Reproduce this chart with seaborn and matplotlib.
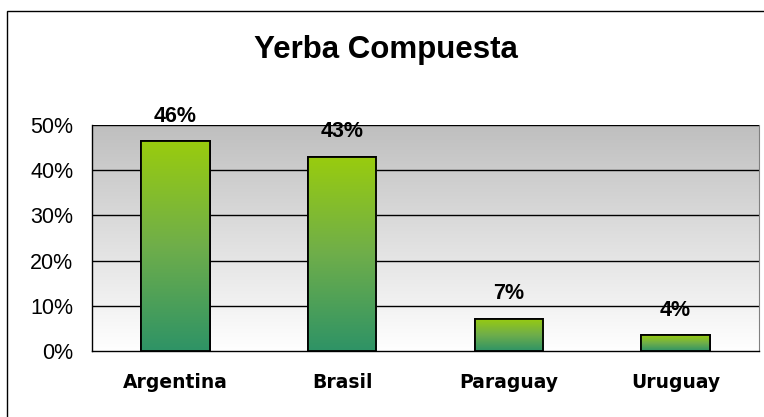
import numpy as np
import matplotlib
matplotlib.use('Agg')
import matplotlib.pyplot as plt
import matplotlib.transforms as mtransforms
import seaborn as sns
import pandas as pd
from matplotlib.colors import LinearSegmentedColormap
from matplotlib.patches import Rectangle

# Data
countries = ['Argentina', 'Brasil', 'Paraguay', 'Uruguay']
shares = [46.4, 43.0, 7.1, 3.5]
share_labels = ['46%', '43%', '7%', '4%']
yticks = [0, 10, 20, 30, 40, 50]

df = pd.DataFrame({'country': countries, 'share': shares})

sns.set_style('white')
plt.rcParams['font.family'] = ['Liberation Sans', 'DejaVu Sans']
plt.rcParams['text.color'] = 'black'
plt.rcParams['xtick.color'] = 'black'
plt.rcParams['ytick.color'] = 'black'

fig = plt.figure(figsize=(7.64, 4.17), dpi=100)
ax = fig.add_axes([92 / 764, 1 - 351 / 417, (759 - 92) / 764, (351 - 125) / 417])

# outer frame of the chart
fig.patches.append(Rectangle((7 / 764, -0.01), 1.2, 1 - 11 / 417 + 0.01, transform=fig.transFigure,
                             fill=False, edgecolor='black', linewidth=1.0))

sns.barplot(data=df, x='country', y='share', ax=ax, width=0.41, color='#8dc63f',
            edgecolor='black', linewidth=1.3, zorder=3)

ax.set_xlim(-0.5, 3.5)
ax.set_ylim(0, 50)

# background gradient: grey at top to white at bottom
bg = LinearSegmentedColormap.from_list('bg', ['#ffffff', '#bfbfbf'])
ax.imshow(np.linspace(0, 1, 256).reshape(-1, 1), cmap=bg, origin='lower', aspect='auto',
          extent=[-0.5, 3.5, 0, 50], zorder=0)

# bar gradient: yellow-green top to teal bottom
barcm = LinearSegmentedColormap.from_list('bar', ['#2e9366', '#6fae4a', '#99cc0e'])
for p in ax.patches:
    x0, y0 = p.get_x(), p.get_y()
    w, h = p.get_width(), p.get_height()
    im = ax.imshow(np.linspace(0, 1, 256).reshape(-1, 1), cmap=barcm, origin='lower', aspect='auto',
                   extent=[x0, x0 + w, y0, y0 + h], zorder=3.5)
    im.set_clip_path(p)
    ax.add_patch(Rectangle((x0, y0), w, h, fill=False, edgecolor='black', linewidth=1.3, zorder=4))

for i, (v, lab) in enumerate(zip(shares, share_labels)):
    ax.text(i, v + 4.3, lab, ha='center', va='baseline', fontsize=15.5, fontweight='bold', zorder=5)

ax.set_yticks(yticks)
ax.set_yticklabels([f'{t}%' for t in yticks], fontsize=15.5)
for t in yticks[1:]:
    ax.axhline(t, color='black', linewidth=1.0, zorder=1)

ax.set_xticks([-0.5, 0.5, 1.5, 2.5, 3.5])
ax.set_xticklabels([])
ax.tick_params(axis='x', direction='out', length=6, width=1)
ax.tick_params(axis='y', direction='out', length=6, width=1, pad=7.5)
ax.set_xlabel('')
ax.set_ylabel('')

# category names below the axis (wider face to mimic the spaced lettering)
trans = mtransforms.blended_transform_factory(ax.transData, ax.transAxes)
for i, name in enumerate(countries):
    ax.text(i, -37 / 226, name, transform=trans, ha='center', va='baseline',
            fontsize=13.5, fontweight='bold', family='DejaVu Sans')

for s in ['left', 'bottom']:
    ax.spines[s].set_color('black')
    ax.spines[s].set_linewidth(1.0)
ax.spines['top'].set_visible(False)
ax.spines['right'].set_color('#808080')

fig.text(386 / 764, 1 - 58 / 417, 'Yerba Compuesta', ha='center', va='baseline',
         fontsize=22.5, fontweight='bold')

fig.savefig('out.png', dpi=100)
